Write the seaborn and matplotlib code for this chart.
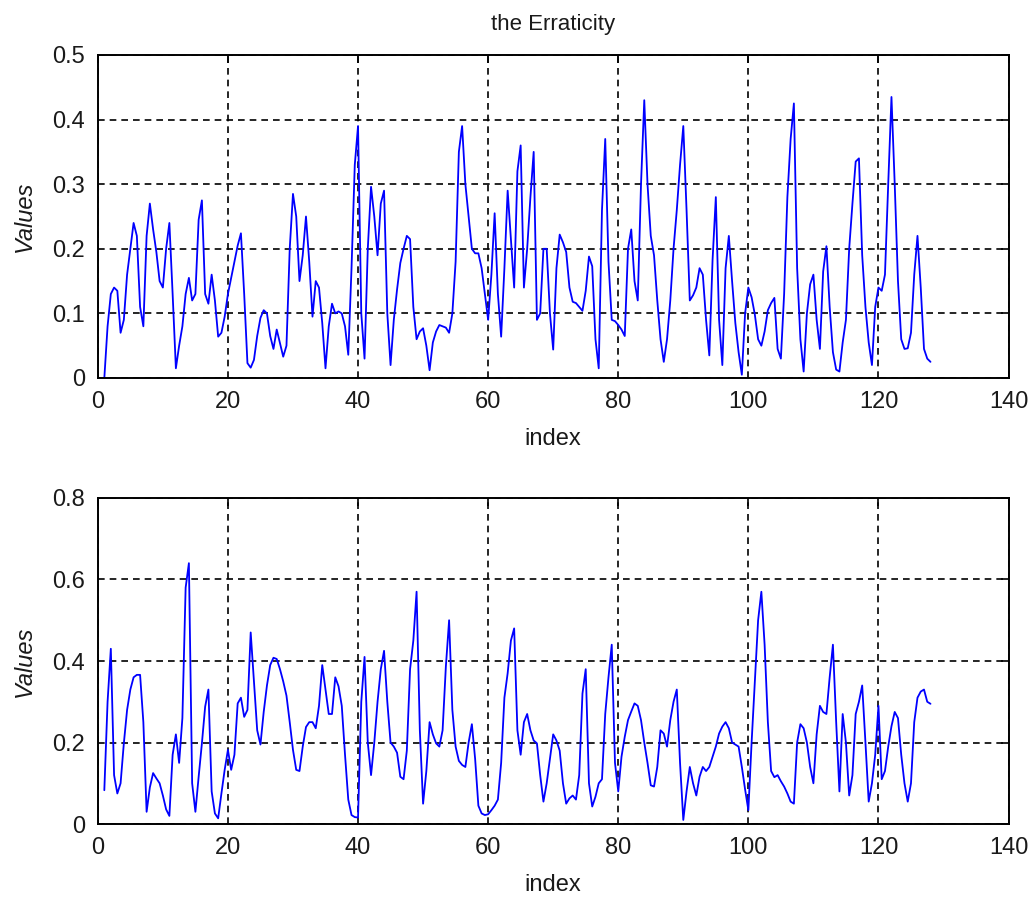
import numpy as np
import matplotlib
matplotlib.use("Agg")
import matplotlib.pyplot as plt
from matplotlib.ticker import FuncFormatter
import seaborn as sns

# sample positions: 1, 1.5, ..., 128
index = np.arange(1, 128.5, 0.5)

# erraticity, first signal
values_top = [
    0.0, 0.08, 0.13, 0.14, 0.135, 0.07, 0.09, 0.16, 0.20, 0.24,
    0.22, 0.11, 0.08, 0.22, 0.27, 0.23, 0.195, 0.15, 0.14, 0.2,
    0.24, 0.13, 0.015, 0.05, 0.08, 0.13, 0.155, 0.12, 0.13, 0.245,
    0.275, 0.13, 0.115, 0.16, 0.12, 0.064, 0.07, 0.095, 0.13, 0.155,
    0.18, 0.205, 0.224, 0.13, 0.023, 0.016, 0.028, 0.065, 0.093, 0.105,
    0.1, 0.065, 0.045, 0.075, 0.054, 0.033, 0.05, 0.2, 0.285, 0.25,
    0.15, 0.19, 0.25, 0.18, 0.095, 0.15, 0.14, 0.085, 0.015, 0.08,
    0.115, 0.1, 0.103, 0.1, 0.08, 0.036, 0.17, 0.33, 0.39, 0.1,
    0.03, 0.2, 0.296, 0.25, 0.19, 0.27, 0.29, 0.1, 0.02, 0.09,
    0.137, 0.178, 0.2, 0.22, 0.215, 0.11, 0.06, 0.072, 0.077, 0.05,
    0.012, 0.055, 0.072, 0.082, 0.08, 0.078, 0.07, 0.1, 0.18, 0.35,
    0.39, 0.3, 0.25, 0.2, 0.193, 0.193, 0.17, 0.13, 0.09, 0.16,
    0.255, 0.13, 0.064, 0.17, 0.29, 0.214, 0.14, 0.32, 0.36, 0.14,
    0.2, 0.28, 0.35, 0.09, 0.1, 0.2, 0.2, 0.1, 0.044, 0.17,
    0.222, 0.21, 0.195, 0.14, 0.118, 0.116, 0.11, 0.104, 0.135, 0.188,
    0.173, 0.06, 0.015, 0.26, 0.37, 0.18, 0.09, 0.088, 0.082, 0.075,
    0.065, 0.2, 0.23, 0.15, 0.12, 0.3, 0.43, 0.3, 0.22, 0.19,
    0.12, 0.06, 0.025, 0.06, 0.12, 0.2, 0.26, 0.33, 0.39, 0.26,
    0.12, 0.128, 0.14, 0.17, 0.16, 0.09, 0.035, 0.183, 0.28, 0.09,
    0.02, 0.17, 0.22, 0.15, 0.085, 0.04, 0.005, 0.1, 0.14, 0.125,
    0.098, 0.06, 0.05, 0.072, 0.105, 0.116, 0.124, 0.045, 0.03, 0.13,
    0.28, 0.37, 0.425, 0.17, 0.06, 0.01, 0.1, 0.145, 0.16, 0.09,
    0.045, 0.165, 0.204, 0.11, 0.04, 0.013, 0.01, 0.055, 0.09, 0.2,
    0.27, 0.335, 0.34, 0.19, 0.11, 0.055, 0.02, 0.11, 0.14, 0.135,
    0.16, 0.3, 0.435, 0.3, 0.15, 0.06, 0.045, 0.046, 0.07, 0.16,
    0.22, 0.14, 0.045, 0.03, 0.025,
]

# erraticity, second signal (lower panel)
values_bottom = [
    0.083, 0.3, 0.43, 0.12, 0.075, 0.1, 0.198, 0.28, 0.33, 0.36,
    0.366, 0.366, 0.25, 0.03, 0.09, 0.125, 0.112, 0.1, 0.07, 0.036,
    0.02, 0.17, 0.22, 0.15, 0.26, 0.58, 0.64, 0.1, 0.03, 0.116,
    0.198, 0.288, 0.33, 0.08, 0.026, 0.014, 0.075, 0.133, 0.182, 0.133,
    0.17, 0.296, 0.31, 0.263, 0.28, 0.47, 0.35, 0.23, 0.195, 0.275,
    0.34, 0.39, 0.408, 0.405, 0.38, 0.35, 0.315, 0.25, 0.182, 0.133,
    0.13, 0.19, 0.238, 0.25, 0.25, 0.235, 0.29, 0.39, 0.33, 0.27,
    0.27, 0.36, 0.338, 0.29, 0.17, 0.06, 0.022, 0.017, 0.016, 0.3,
    0.41, 0.2, 0.12, 0.2, 0.3, 0.38, 0.425, 0.3, 0.2, 0.19,
    0.175, 0.116, 0.11, 0.18, 0.38, 0.45, 0.57, 0.23, 0.05, 0.13,
    0.25, 0.22, 0.198, 0.19, 0.23, 0.386, 0.5, 0.28, 0.19, 0.155,
    0.145, 0.14, 0.2, 0.245, 0.16, 0.045, 0.026, 0.022, 0.024, 0.034,
    0.045, 0.06, 0.15, 0.31, 0.37, 0.45, 0.48, 0.23, 0.17, 0.25,
    0.27, 0.23, 0.205, 0.198, 0.12, 0.055, 0.1, 0.16, 0.22, 0.205,
    0.18, 0.1, 0.05, 0.063, 0.07, 0.06, 0.12, 0.32, 0.38, 0.1,
    0.043, 0.067, 0.1, 0.11, 0.27, 0.36, 0.44, 0.15, 0.08, 0.165,
    0.214, 0.255, 0.276, 0.296, 0.29, 0.255, 0.2, 0.15, 0.095, 0.092,
    0.14, 0.23, 0.222, 0.19, 0.255, 0.3, 0.33, 0.15, 0.01, 0.08,
    0.14, 0.1, 0.07, 0.116, 0.14, 0.13, 0.14, 0.165, 0.19, 0.222,
    0.239, 0.25, 0.235, 0.2, 0.195, 0.19, 0.14, 0.085, 0.034, 0.2,
    0.35, 0.5, 0.57, 0.44, 0.25, 0.13, 0.115, 0.12, 0.105, 0.092,
    0.075, 0.055, 0.05, 0.2, 0.245, 0.235, 0.2, 0.14, 0.1, 0.22,
    0.29, 0.275, 0.27, 0.36, 0.44, 0.25, 0.08, 0.27, 0.2, 0.07,
    0.12, 0.27, 0.3, 0.34, 0.2, 0.055, 0.1, 0.17, 0.29, 0.11,
    0.13, 0.19, 0.24, 0.275, 0.26, 0.17, 0.1, 0.055, 0.1, 0.25,
    0.31, 0.325, 0.33, 0.3, 0.295,
]

xticks = [0, 20, 40, 60, 80, 100, 120, 140]
yticks_top = [0, 0.1, 0.2, 0.3, 0.4, 0.5]
yticks_bottom = [0, 0.2, 0.4, 0.6, 0.8]

sns.set_style("white")
plt.rcParams['font.family'] = ['Liberation Sans', 'DejaVu Sans']

fig = plt.figure(figsize=(10.34, 9), dpi=100)
ax1 = fig.add_axes([0.0946, 0.58, 0.8808, 0.3589])
ax2 = fig.add_axes([0.0946, 0.0844, 0.8808, 0.3623])

text_color = '#1a1a1a'


def style_axis(ax, yticks):
    ax.set_xlim(0, 140)
    ax.set_ylim(yticks[0], yticks[-1])
    ax.set_xticks(xticks)
    ax.set_yticks(yticks)
    ax.yaxis.set_major_formatter(FuncFormatter(lambda v, p: f"{v:g}"))
    ax.grid(True, color='black', linestyle=(0, (4, 3)), linewidth=1.2)
    ax.tick_params(direction='in', length=6, width=1.2, top=True, right=True,
                   labelsize=17, colors='black', labelcolor=text_color, pad=9)
    for s in ax.spines.values():
        s.set_color('black')
        s.set_linewidth(1.4)
    ax.set_xlabel("index", fontsize=17, labelpad=11, color=text_color)
    ax.set_ylabel("Values", fontsize=17, style='italic', labelpad=12,
                  color=text_color)


sns.lineplot(x=index, y=values_top, ax=ax1, color='#0000ff', linewidth=1.3)
style_axis(ax1, yticks_top)
ax1.set_title("the Erraticity", fontsize=16, pad=18, color=text_color)

sns.lineplot(x=index, y=values_bottom, ax=ax2, color='#0000ff', linewidth=1.3)
style_axis(ax2, yticks_bottom)

fig.savefig("out.png", dpi=100, facecolor='white')
